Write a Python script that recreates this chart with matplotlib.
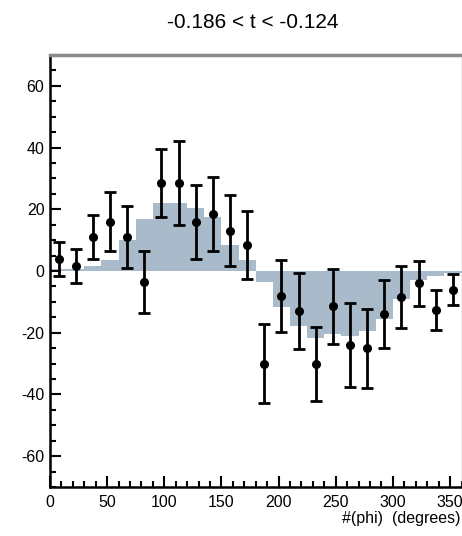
import matplotlib
matplotlib.use("Agg")
import matplotlib.pyplot as plt
import numpy as np
from matplotlib.ticker import MultipleLocator

# Data
bin_edges = list(range(0, 361, 15))
model_values = [0.5, 0.5, 1.5, 3.5, 10, 17, 22, 22, 20.5, 17.5, 8.5, 3.7,
                -3.7, -11.8, -17.8, -21.6, -20.5, -21, -19.5, -15.5, -9, -3, -1.5, -0.5]
phi_points = [7.5 + 15 * i for i in range(24)]
y_points = [4, 1.5, 11, 16, 11, -3.5, 28.5, 28.5, 16, 18.5, 13, 8.5,
            -30, -8, -13, -30, -11.5, -24, -25, -14, -8.5, -4, -12.5, -6]
y_errors = [5.5, 5.5, 7, 9.5, 10, 10, 11, 13.5, 12, 12, 11.5, 11,
            12.7, 11.7, 12.3, 12, 12, 13.5, 12.8, 11, 10, 7.3, 6.5, 5]

title = "-0.186 < t < -0.124"
xlabel = "#(phi)  (degrees)"

W, H = 462, 536
fig = plt.figure(figsize=(W / 100, H / 100), dpi=100)
plt.rcParams['font.family'] = ['Liberation Sans', 'DejaVu Sans']

left, right, top, bottom = 50, 461.5, 55, 487
ax = fig.add_axes([left / W, 1 - bottom / H, (right - left) / W, (bottom - top) / H])

ax.stairs(model_values, bin_edges, fill=True, baseline=0, color='#a9bbcb', linewidth=0)
ax.errorbar(phi_points, y_points, yerr=y_errors, fmt='o', color='black',
            markersize=5.5, elinewidth=2.0, capsize=4.5, capthick=2.0, zorder=3)

ax.set_xlim(0, 360)
ax.set_ylim(-70, 70)

ax.xaxis.set_major_locator(MultipleLocator(50))
ax.xaxis.set_minor_locator(MultipleLocator(10))
ax.yaxis.set_major_locator(MultipleLocator(20))
ax.yaxis.set_minor_locator(MultipleLocator(5))
ax.tick_params(which='both', direction='in', top=False, right=False, width=1.5, colors='black',
               labelsize=11.5)
ax.tick_params(which='major', length=8)
ax.tick_params(which='minor', length=4)
ax.tick_params(axis='x', pad=6)
ax.tick_params(axis='y', pad=4)

for s in ['left', 'bottom']:
    ax.spines[s].set_linewidth(1.8)
    ax.spines[s].set_color('black')
ax.spines['top'].set_linewidth(2.5)
ax.spines['top'].set_color('#8a8a8a')
ax.spines['right'].set_linewidth(1.0)
ax.spines['right'].set_color('#b0b0b0')

ax.yaxis.set_major_formatter(matplotlib.ticker.FuncFormatter(lambda v, p: f"{int(v)}"))
ax.xaxis.set_major_formatter(matplotlib.ticker.FuncFormatter(lambda v, p: f"{int(v)}"))

fig.text(253 / W, 1 - 22 / H, title, ha='center', va='center', fontsize=15)
fig.text(460 / W, 1 - 519 / H, xlabel, ha='right', va='center', fontsize=11.5)

fig.savefig("out.png", dpi=100)
